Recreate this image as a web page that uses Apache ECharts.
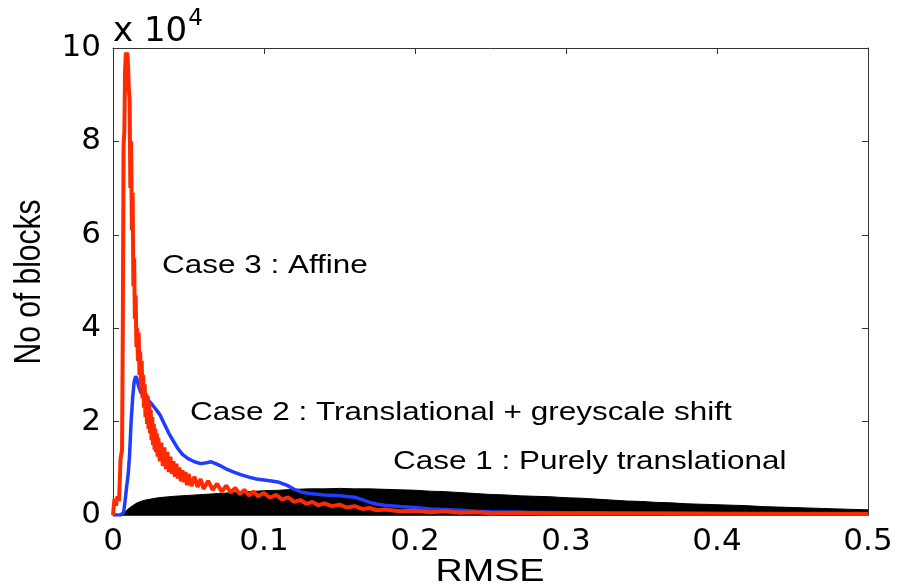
<!DOCTYPE html>
<html>
<head>
<meta charset="utf-8">
<script src="https://cdn.jsdelivr.net/npm/echarts@6/dist/echarts.min.js"></script>
<style>
html,body{margin:0;padding:0;background:#fff;}
#chart{width:897px;height:587px;}
</style>
</head>
<body>
<div id="chart"></div>
<script>
// x ticks (RMSE) and y ticks (No of blocks, x 10^4)
var xTicks = [0, 0.1, 0.2, 0.3, 0.4, 0.5];
var yTicks = [0, 2, 4, 6, 8, 10];

// Case 1 : Purely translational (black filled), [RMSE, blocks / 1e4]
var case1 = [
  [0,0],[0.006,0],[0.008,0.06],[0.01,0.13],[0.013,0.2],[0.016,0.26],[0.02,0.31],[0.025,0.34],
  [0.03,0.37],[0.04,0.4],[0.05,0.42],[0.06,0.44],[0.07,0.46],[0.08,0.48],[0.09,0.5],
  [0.1,0.52],[0.11,0.53],[0.12,0.55],[0.13,0.56],[0.14,0.56],[0.15,0.57],[0.16,0.56],
  [0.17,0.56],[0.18,0.55],[0.19,0.54],[0.2,0.53],[0.21,0.51],[0.22,0.5],[0.23,0.48],
  [0.24,0.46],[0.25,0.44],[0.26,0.43],[0.27,0.41],[0.28,0.4],[0.29,0.39],[0.3,0.37],
  [0.31,0.36],[0.32,0.34],[0.33,0.32],[0.34,0.3],[0.35,0.29],[0.36,0.27],[0.37,0.26],
  [0.38,0.24],[0.39,0.23],[0.4,0.22],[0.41,0.21],[0.42,0.2],[0.43,0.18],[0.44,0.17],
  [0.45,0.16],[0.46,0.15],[0.47,0.14],[0.48,0.13],[0.49,0.12],[0.5,0.11]
];

// Case 2 : Translational + greyscale shift (blue)
var case2 = [
  [0,0],[0.005,0],[0.007,0.05],[0.008,0.3],[0.009,0.6],[0.01,0.85],[0.011,1.3],[0.012,2.0],
  [0.013,2.5],[0.014,2.85],[0.015,2.97],[0.016,2.9],[0.017,2.75],[0.0185,2.62],[0.02,2.58],
  [0.022,2.5],[0.025,2.4],[0.028,2.28],[0.031,2.15],[0.034,1.95],[0.037,1.75],[0.04,1.58],
  [0.043,1.42],[0.046,1.3],[0.05,1.2],[0.054,1.14],[0.058,1.1],[0.062,1.12],[0.065,1.14],
  [0.068,1.1],[0.072,1.04],[0.076,0.97],[0.08,0.92],[0.085,0.86],[0.09,0.81],[0.095,0.77],
  [0.1,0.75],[0.105,0.73],[0.11,0.7],[0.115,0.64],[0.12,0.55],[0.125,0.49],[0.13,0.46],
  [0.14,0.43],[0.15,0.41],[0.16,0.38],[0.165,0.33],[0.17,0.27],[0.175,0.23],[0.18,0.21],
  [0.19,0.18],[0.2,0.16],[0.21,0.13],[0.22,0.12],[0.23,0.1],[0.24,0.08],[0.25,0.07],
  [0.27,0.06],[0.3,0.05],[0.35,0.04],[0.4,0.04],[0.45,0.03],[0.5,0.03]
];

// Case 3 : Affine (red)
var case3 = [
  [0,0],[0.001,0.35],[0.002,0.2],[0.003,0.4],[0.004,0.3],[0.005,1.2],[0.006,1.4],[0.0065,4.0],
  [0.007,7.9],[0.0075,8.2],[0.008,9.5],[0.0085,9.9],[0.009,9.8],[0.0095,9.9],[0.01,9.6],
  [0.0105,9.1],[0.011,8.9],[0.0115,7.0],[0.012,8.0],[0.0125,6.1],[0.013,6.9],[0.0135,4.9],
  [0.014,5.5],[0.0145,4.2],[0.015,4.7],[0.0155,3.6],[0.016,4.0],[0.0165,3.3],[0.017,3.9],
  [0.0175,3.0],[0.018,3.5],[0.0185,2.7],[0.019,3.3],[0.0195,2.5],[0.02,3.0],[0.0205,2.3],
  [0.021,2.8],[0.0215,2.1],[0.022,2.6],[0.0225,1.95],[0.023,2.55],[0.0235,1.85],[0.024,2.4],
  [0.0245,1.75],[0.025,2.25],[0.0255,1.6],[0.026,2.1],[0.0265,1.5],[0.027,1.95],[0.0275,1.4],
  [0.028,1.85],[0.0285,1.35],[0.029,1.75],[0.0295,1.25],[0.03,1.65],[0.031,1.15],[0.032,1.55],
  [0.033,1.05],[0.034,1.45],[0.035,0.98],[0.036,1.35],[0.037,0.92],[0.038,1.25],[0.039,0.88],
  [0.04,1.15],[0.041,0.82],[0.042,1.1],[0.043,0.78],[0.044,1.02],[0.045,0.72],[0.046,0.96],
  [0.047,0.7],[0.048,0.92],[0.049,0.64],[0.05,0.88],[0.052,0.62],[0.054,0.82],[0.056,0.6],
  [0.058,0.77],[0.06,0.56],[0.063,0.73],[0.066,0.54],[0.069,0.67],[0.072,0.5],[0.075,0.63],
  [0.078,0.48],[0.081,0.58],[0.084,0.44],[0.087,0.54],[0.09,0.42],[0.093,0.5],[0.096,0.4],
  [0.1,0.47],[0.104,0.37],[0.108,0.43],[0.112,0.33],[0.116,0.38],[0.12,0.28],[0.124,0.32],
  [0.128,0.24],[0.132,0.28],[0.136,0.21],[0.14,0.25],[0.145,0.19],[0.15,0.22],[0.155,0.16],
  [0.16,0.19],[0.165,0.13],[0.17,0.15],[0.175,0.1],[0.18,0.12],[0.19,0.08],[0.2,0.09],
  [0.21,0.06],[0.22,0.08],[0.23,0.05],[0.24,0.06],[0.25,0.04],[0.27,0.05],[0.29,0.03],
  [0.31,0.04],[0.33,0.03],[0.36,0.03],[0.4,0.02],[0.45,0.02],[0.5,0.02]
];

var FONT = '"DejaVu Sans", "Liberation Sans", Arial, sans-serif';
var FONT2 = '"Liberation Sans", Arial, Helvetica, sans-serif';
var chart = echarts.init(document.getElementById('chart'), null, {renderer: 'canvas'});

function xAx(pos, showLabel) {
  return {
    type: 'value', position: pos, min: xTicks[0], max: xTicks[xTicks.length - 1],
    interval: xTicks[1] - xTicks[0],
    axisLine: {show: true, onZero: false, lineStyle: {color: '#333', width: 1}},
    axisTick: {show: true, inside: true, length: 6, lineStyle: {color: '#333'}},
    splitLine: {show: false},
    axisLabel: {show: showLabel, fontSize: 31, color: '#000', fontFamily: FONT, margin: 11,
      formatter: function (v) { return String(+v.toFixed(1)); }}
  };
}
function yAx(pos, showLabel) {
  return {
    type: 'value', position: pos, min: yTicks[0], max: yTicks[yTicks.length - 1],
    interval: yTicks[1] - yTicks[0],
    axisLine: {show: true, onZero: false, lineStyle: {color: '#333', width: 1}},
    axisTick: {show: true, inside: true, length: 6, lineStyle: {color: '#333'}},
    splitLine: {show: false},
    axisLabel: {show: showLabel, fontSize: 31, color: '#000', fontFamily: FONT, margin: 12}
  };
}

chart.setOption({
  animation: false,
  backgroundColor: '#fff',
  grid: {left: 113, right: 29, top: 48, bottom: 72, containLabel: false, outerBoundsMode: 'none'},
  xAxis: [xAx('bottom', true), xAx('top', false)],
  yAxis: [yAx('left', true), yAx('right', false)],
  series: [
    {name: 'Case 1', type: 'line', data: case1, showSymbol: false, symbol: 'none',
      lineStyle: {color: '#000', width: 1}, areaStyle: {color: '#000', opacity: 1}, z: 2},
    {name: 'Case 2', type: 'line', data: case2, showSymbol: false, symbol: 'none',
      lineStyle: {color: '#1f3cff', width: 3.5}, z: 3},
    {name: 'Case 3', type: 'line', data: case3, showSymbol: false, symbol: 'none',
      lineStyle: {color: '#ff2a00', width: 4}, z: 4}
  ],
  graphic: [
    {type: 'text', x: 113, y: 49, style: {
      text: '{a|x 10}{b|4}', fill: '#000', textVerticalAlign: 'bottom',
      rich: {a: {fontSize: 34, fontFamily: FONT, verticalAlign: 'bottom'},
             b: {fontSize: 23, fontFamily: FONT, verticalAlign: 'top', padding: [0, 0, 18, 1]}}}},
    {type: 'text', x: 490, y: 572, scaleX: 1.18, style: {text: 'RMSE', fontSize: 32,
      fontFamily: FONT2, fill: '#000', textAlign: 'center', textVerticalAlign: 'middle'}},
    {type: 'text', x: 30, y: 282, rotation: Math.PI / 2, scaleY: 1.2, style: {text: 'No of blocks',
      fontSize: 30, fontFamily: FONT2, fill: '#000', textAlign: 'center', textVerticalAlign: 'middle'}},
    {type: 'text', x: 162, y: 266, scaleX: 1.21, style: {text: 'Case 3 : Affine', fontSize: 26,
      fontFamily: FONT2, fill: '#000', textVerticalAlign: 'middle'}},
    {type: 'text', x: 190, y: 413, scaleX: 1.21, style: {text: 'Case 2 : Translational + greyscale shift',
      fontSize: 26, fontFamily: FONT2, fill: '#000', textVerticalAlign: 'middle'}},
    {type: 'text', x: 393, y: 462, scaleX: 1.21, style: {text: 'Case 1 : Purely translational',
      fontSize: 26, fontFamily: FONT2, fill: '#000', textVerticalAlign: 'middle'}}
  ]
});
</script>
</body>
</html>
